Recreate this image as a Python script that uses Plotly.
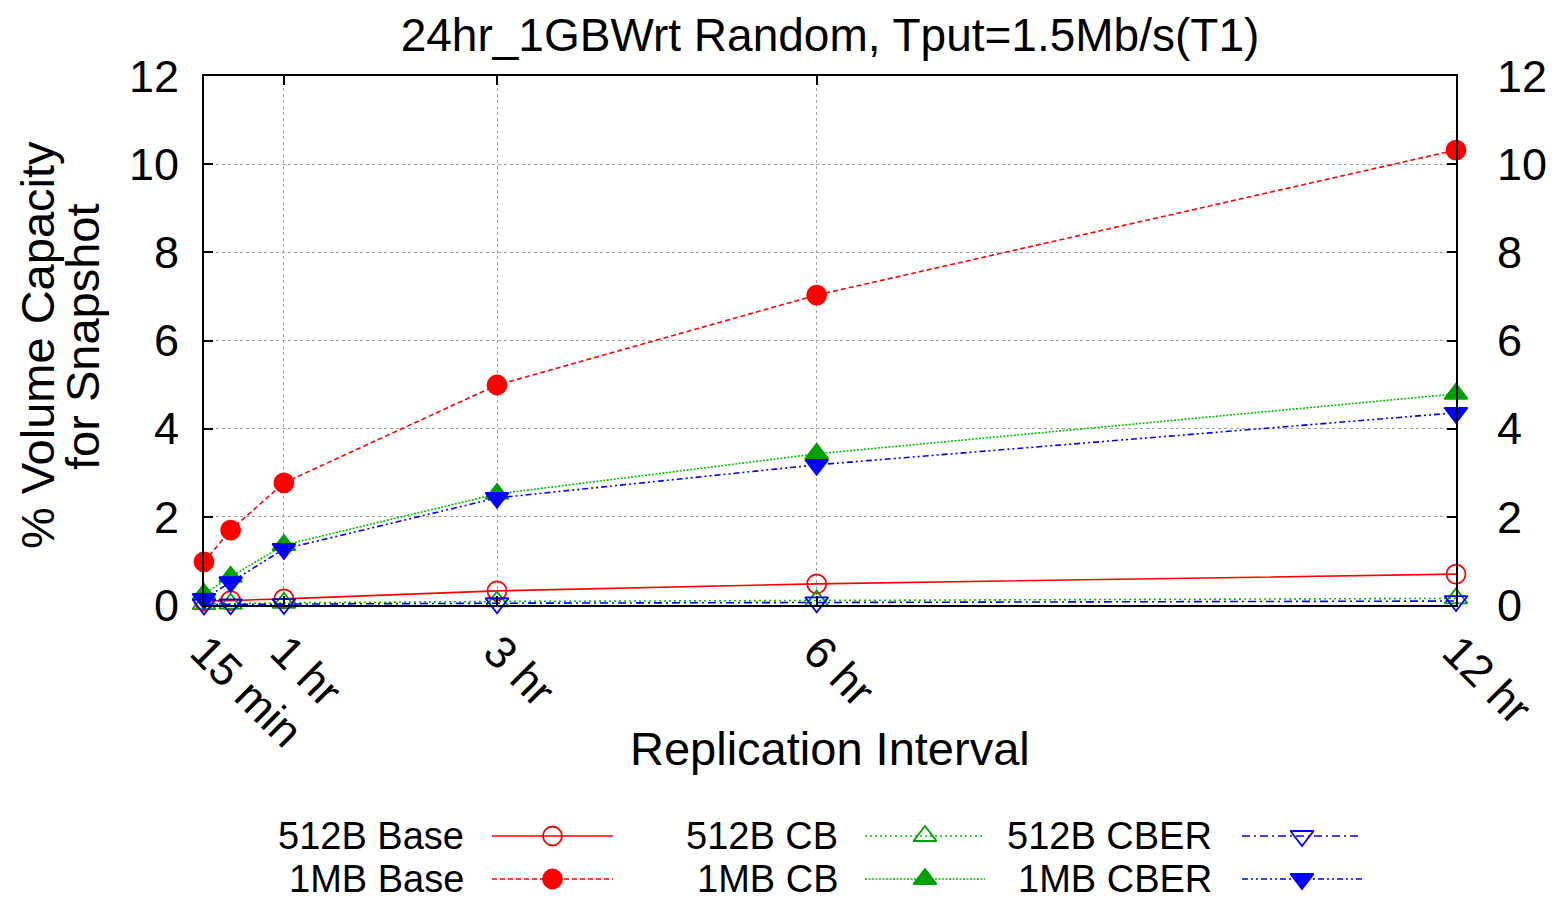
import plotly.graph_objects as go

# ---- data ----
x_hours = [0.25, 0.5, 1, 3, 6, 12]
tick_vals = [0.25, 1, 3, 6, 12]
tick_text = ["15 min", "1 hr", "3 hr", "6 hr", "12 hr"]
y_ticks = [0, 2, 4, 6, 8, 10, 12]

base_512b = [0.09, 0.10, 0.14, 0.32, 0.48, 0.70]
base_1mb = [0.98, 1.70, 2.77, 4.99, 7.03, 10.32]
cb_512b = [0.02, 0.03, 0.05, 0.08, 0.10, 0.15]
cb_1mb = [0.25, 0.64, 1.36, 2.52, 3.43, 4.79]
cber_512b = [0.01, 0.015, 0.02, 0.04, 0.06, 0.09]
cber_1mb = [0.14, 0.52, 1.27, 2.43, 3.18, 4.36]

series_names = ["512B Base", "1MB Base", "512B CB", "1MB CB", "512B CBER", "1MB CBER"]
series_values = [base_512b, base_1mb, cb_512b, cb_1mb, cber_512b, cber_1mb]

RED = "#ff0000"
GREEN_L = "#00c000"
GREEN_F = "#00a000"
BLUE = "#0000ff"

styles = [
    dict(lc=RED, dash="solid", sym="circle-open", mc=RED),
    dict(lc=RED, dash="5px,3px", sym="circle", mc=RED),
    dict(lc=GREEN_L, dash="2px,3px", sym="triangle-up-open", mc=GREEN_F),
    dict(lc=GREEN_L, dash="2px,1.5px", sym="triangle-up", mc=GREEN_F),
    dict(lc=BLUE, dash="8px,4px,2px,4px", sym="triangle-down-open", mc=BLUE),
    dict(lc=BLUE, dash="6px,3px,2px,3px,2px,3px", sym="triangle-down", mc=BLUE),
]

FONT = "Liberation Sans, Arial, sans-serif"

OFF = 8  # page body margin
W, H = 1550, 893
ML, MT = 204 - OFF, 76 - OFF
MR = W - (1456 - OFF)
MB = 2
plot_h = H - MT - MB
plot_w = W - ML - MR
y_bottom_fig = 605 - OFF
dom_lo = (H - MB - y_bottom_fig) / plot_h


def py(page_y):
    return (H - MB - (page_y - OFF)) / plot_h


def px_(page_x):
    return (page_x - OFF - ML) / plot_w


def msize(sym):
    return 19 if "circle" in sym else 20


fig = go.Figure()

for name, vals, st in zip(series_names, series_values, styles):
    fig.add_trace(go.Scatter(
        x=x_hours, y=vals, mode="lines+markers", name=name, cliponaxis=False,
        line=dict(color=st["lc"], width=1.6, dash=st["dash"]),
        marker=dict(symbol=st["sym"], size=msize(st["sym"]),
                    color=st["mc"], line=dict(color=st["mc"], width=1.8)),
        showlegend=False, xaxis="x", yaxis="y",
    ))

# invisible trace to render the right-hand axis
fig.add_trace(go.Scatter(x=x_hours, y=base_1mb, mode="markers", marker=dict(opacity=0),
                         hoverinfo="skip", showlegend=False, xaxis="x", yaxis="y2"))

# ---- custom gnuplot-style key (text left, sample right) ----
legend_cols = [(465, 492, 613), (839, 865, 985), (1213, 1242, 1362)]
legend_rows = [836, 879]
for i, (name, st) in enumerate(zip(series_names, styles)):
    col, row = i // 2, i % 2
    tx, x0, x1 = legend_cols[col]
    yy = legend_rows[row]
    fig.add_trace(go.Scatter(
        x=[x0, (x0 + x1) / 2, x1], y=[yy, yy, yy], mode="lines",
        line=dict(color=st["lc"], width=1.6, dash=st["dash"]),
        hoverinfo="skip", showlegend=False, xaxis="x3", yaxis="y3"))
    fig.add_trace(go.Scatter(
        x=[(x0 + x1) / 2], y=[yy], mode="markers", cliponaxis=False,
        marker=dict(symbol=st["sym"], size=msize(st["sym"]),
                    color=st["mc"], line=dict(color=st["mc"], width=1.8)),
        hoverinfo="skip", showlegend=False, xaxis="x3", yaxis="y3"))
    fig.add_annotation(x=tx, y=yy, xref="x3", yref="y3", text=name, showarrow=False,
                       xanchor="right", yanchor="middle", borderpad=0,
                       font=dict(family=FONT, size=38, color="black"))

grid = dict(showgrid=True, gridcolor="#a0a0a0", gridwidth=1, griddash="dot")
TICKFONT = dict(family=FONT, size=45, color="black")

fig.update_layout(
    width=W, height=H,
    margin=dict(l=ML, r=MR, t=MT, b=MB, autoexpand=False),
    paper_bgcolor="white", plot_bgcolor="white",
    title=dict(text="24hr_1GBWrt Random, Tput=1.5Mb/s(T1)", x=(ML + plot_w / 2) / W,
               xanchor="center", y=1 - (35 - OFF) / H, yanchor="middle",
               font=dict(family=FONT, size=46, color="black")),
    xaxis=dict(domain=[0, 1], range=[0.25, 12], tickmode="array", tickvals=tick_vals,
               ticktext=tick_text, tickangle=45, ticks="inside", ticklen=9, tickwidth=2,
               tickcolor="black", showline=True, linecolor="black", linewidth=2,
               mirror="ticks", zeroline=False, anchor="y",
               tickfont=TICKFONT, **grid),
    yaxis=dict(domain=[dom_lo, 1], range=[0, 12], tickmode="array", tickvals=y_ticks,
               ticks="inside", ticklen=9, tickwidth=2, tickcolor="black",
               showline=True, linecolor="black", linewidth=2, mirror=True,
               zeroline=False, anchor="x", ticklabelstandoff=14,
               tickfont=TICKFONT, **grid),
    yaxis2=dict(overlaying="y", side="right", range=[0, 12], tickmode="array",
                tickvals=y_ticks, ticks="inside", ticklen=9, tickwidth=2,
                tickcolor="black", showgrid=False, zeroline=False, anchor="x",
                ticklabelstandoff=40, tickfont=TICKFONT),
    xaxis3=dict(domain=[0, 1], range=[204, 1456], visible=False, anchor="y3"),
    yaxis3=dict(domain=[0, py(805)], range=[H - MB + OFF, 805], visible=False, anchor="x3"),
    showlegend=False,
)

fig.add_annotation(text="Replication Interval", xref="paper", yref="paper",
                   x=0.5, y=py(748), xanchor="center", yanchor="middle", showarrow=False,
                   font=dict(family=FONT, size=47, color="black"))
fig.add_annotation(text="% Volume Capacity", xref="paper", yref="paper",
                   x=px_(37), y=py(345), xanchor="center", yanchor="middle",
                   showarrow=False, textangle=-90,
                   font=dict(family=FONT, size=47, color="black"))
fig.add_annotation(text="for Snapshot", xref="paper", yref="paper",
                   x=px_(83), y=py(336), xanchor="center", yanchor="middle",
                   showarrow=False, textangle=-90,
                   font=dict(family=FONT, size=47, color="black"))

fig.write_html("out.html")
